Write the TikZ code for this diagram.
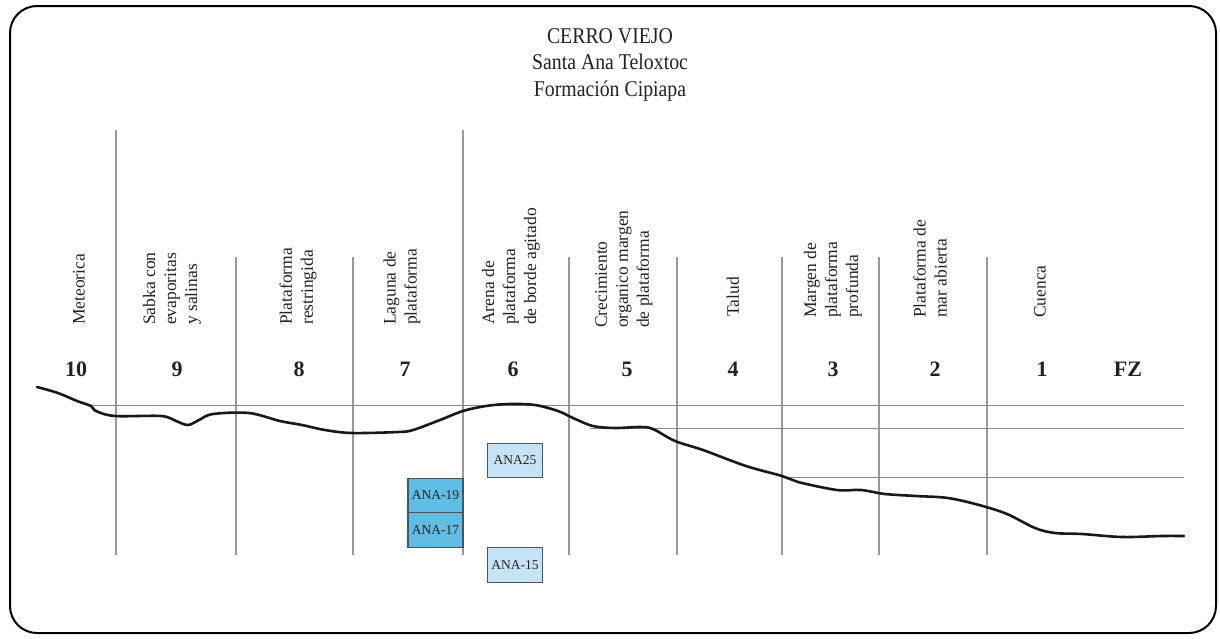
\documentclass[tikz,border=0pt]{standalone}
\usepackage{fontspec}
\setmainfont{Liberation Serif}
\newfontfamily\titlefont[FakeStretch=0.88]{Liberation Serif}
\definecolor{gridgray}{HTML}{9A9A9A}
\definecolor{hgray}{HTML}{8A8A8A}
\definecolor{boxdark}{HTML}{62BDE5}
\definecolor{boxlight}{HTML}{C6E3F6}
\definecolor{boxedge}{HTML}{4A5560}
\definecolor{txt}{HTML}{222222}
\tikzset{
  frame/.style={draw=black, line width=2pt, rounded corners=27pt},
  vline/.style={draw=gridgray, line width=1.1pt},
  hline/.style={draw=hgray, line width=1pt},
  profile/.style={draw=black!90, line width=2.6pt, line cap=round, line join=round},
  zlabel/.style={rotate=90, anchor=west, align=left, inner sep=0pt, text=txt,
    font=\fontsize{17.5}{21}\selectfont},
  znum/.style={anchor=base, inner sep=0pt, text=txt, font=\fontsize{22}{24}\selectfont\bfseries},
  ttl/.style={anchor=base, inner sep=0pt, text=txt, font=\titlefont\fontsize{22.5}{26}\selectfont},
  sample/.style={draw=boxedge, line width=1.3pt, minimum width=55pt, minimum height=34.5pt,
    inner sep=0pt, text=txt, font=\fontsize{13.5}{15}\selectfont},
}
\begin{document}
\begin{tikzpicture}[x=1pt, y=-1pt]
\useasboundingbox (0,0) rectangle (1220,638);
\draw[frame] (10,6) rectangle (1216,633);

% title
\node[ttl] (t1) at (610,43) {CERRO VIEJO};
\node[ttl] (t2) at (610,69) {Santa Ana Teloxtoc};
\node[ttl] (t3) at (610,96) {Formación Cipiapa};

% vertical lines
\draw[vline] (116,130) -- (116,555);
\draw[vline] (463,130) -- (463,555);
\foreach \x in {236,353,569,677,782,879,987}
  \draw[vline] (\x,257) -- (\x,555);

% horizontal lines
\draw[hline] (92,405) -- (1184,405);
\draw[hline] (590,428) -- (1184,428);
\draw[hline] (782,477) -- (1184,477);

% zone labels
\node[zlabel] (l10) at (79,325) {Meteorica};
\node[zlabel] (l9) at (172,325) {Sabka con\\evaporitas\\y salinas};
\node[zlabel] (l8) at (298,325) {Plataforma\\restringida};
\node[zlabel] (l7) at (402,325) {Laguna de\\plataforma};
\node[zlabel] (l6) at (511,325) {Arena de\\plataforma\\de borde agitado};
\node[zlabel] (l5) at (624,328) {Crecimiento\\organico margen\\de plataforma};
\node[zlabel] (l4) at (733,317) {Talud};
\node[zlabel] (l3) at (833,318) {Margen de\\plataforma\\profunda};
\node[zlabel] (l2) at (930,318) {Plataforma de\\mar abierta};
\node[zlabel] (l1) at (1040,318) {Cuenca};

% zone numbers
\node[znum] (n10) at (76,376) {10};
\node[znum] (n9) at (177,376) {9};
\node[znum] (n8) at (299,376) {8};
\node[znum] (n7) at (405,376) {7};
\node[znum] (n6) at (513,376) {6};
\node[znum] (n5) at (627,376) {5};
\node[znum] (n4) at (733,376) {4};
\node[znum] (n3) at (833,376) {3};
\node[znum] (n2) at (935,376) {2};
\node[znum] (n1) at (1042,376) {1};
\node[znum] (nfz) at (1128,376) {FZ};

% profile
\draw[profile] plot[smooth, tension=0.55] coordinates {
 (37,387) (58,393) (77,401) (91,406) (96,411) (115,416) (161,416) (176,421)
 (188,425) (199,420) (213,414) (249,413) (280,421) (302,425) (325,430) (352,433)
 (398,432) (413,430) (440,420) (463,411) (486,406) (509,404) (535,405) (558,411)
 (573,418) (593,426) (615,428) (640,427) (653,429) (675,441) (703,450) (746,466)
 (782,476) (798,482) (837,490) (861,490) (885,494) (916,496) (948,498) (979,505)
 (1007,514) (1035,528) (1055,533) (1082,534) (1122,537) (1161,536) (1184,536)};

% samples
\node[sample, fill=boxlight] (a25) at (515,460.5) {ANA25};
\node[sample, fill=boxdark] (a19) at (435.5,495.5) {ANA-19};
\node[sample, fill=boxdark] (a17) at (435.5,530) {ANA-17};
\node[sample, fill=boxlight] (a15) at (515,565) {ANA-15};
\end{tikzpicture}
\end{document}
